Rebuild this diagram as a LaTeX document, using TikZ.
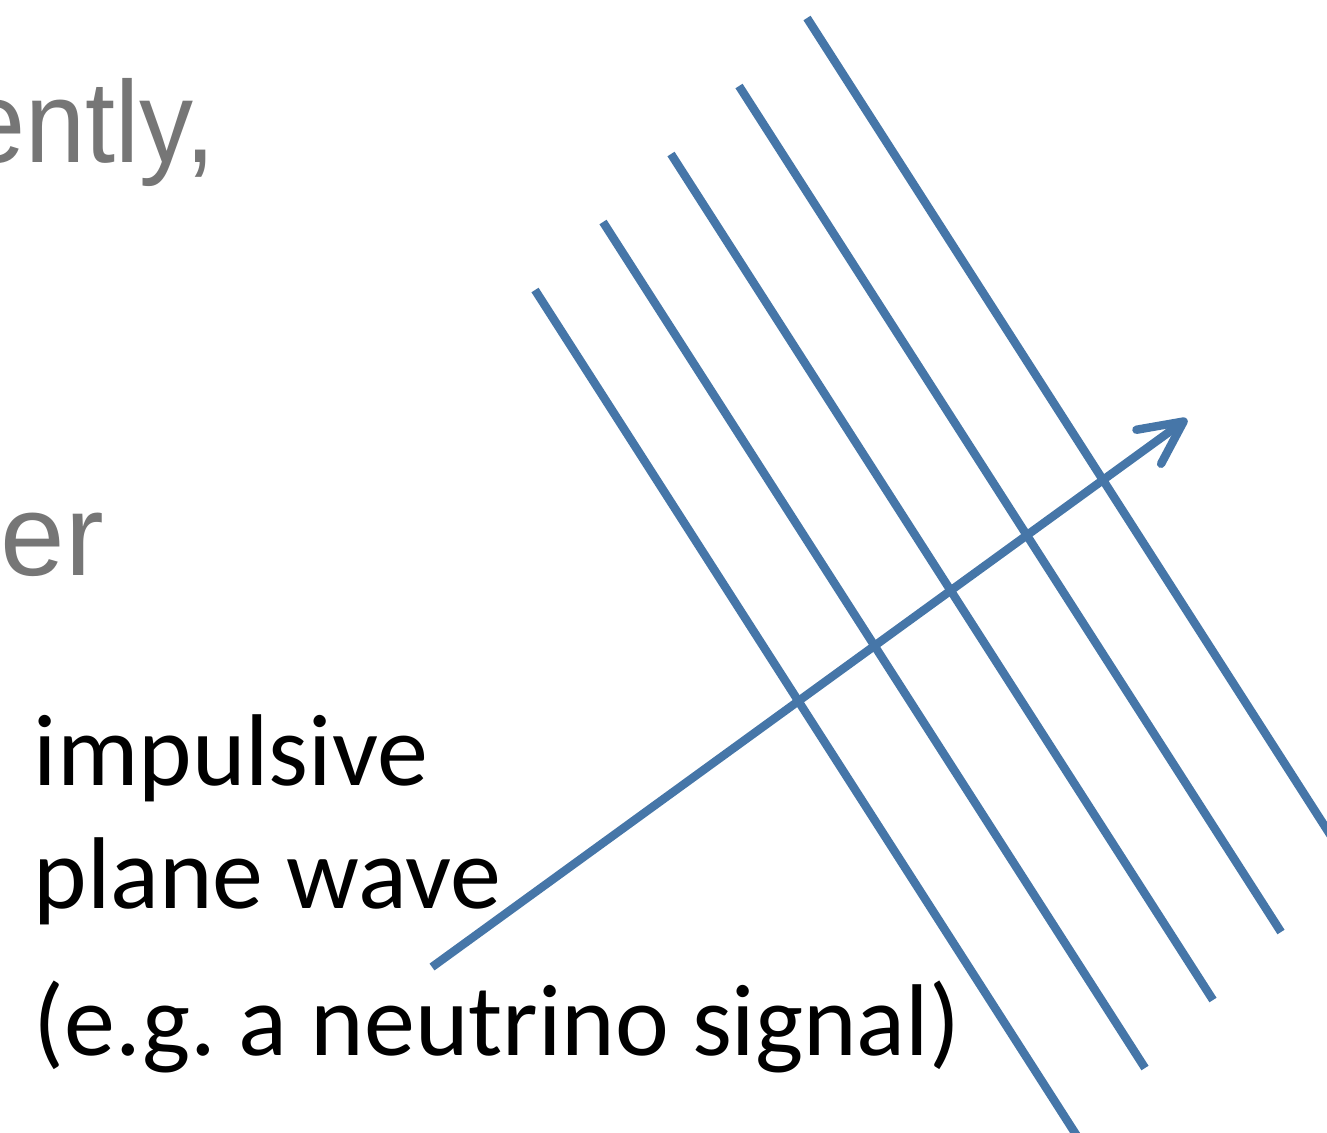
\documentclass[tikz,border=0pt]{standalone}
\usepackage{fontspec}
\setmainfont{Carlito}
\newfontfamily\slidefont{Liberation Sans}
\usetikzlibrary{arrows.meta}
\definecolor{waveblue}{RGB}{70,118,168}
\definecolor{slidegray}{RGB}{118,118,118}
\tikzset{
  front/.style={waveblue, line width=2.4pt},
  caption/.style={anchor=base west, inner sep=0pt, font=\fontsize{29}{35}\selectfont},
  backtext/.style={inner sep=0pt, text=slidegray, font=\slidefont\fontsize{33}{40}\selectfont}
}
\begin{document}
\frenchspacing
\begin{tikzpicture}[x=0.01cm, y=-0.01cm]
  \useasboundingbox (0,0) rectangle (1327,1132);
  \clip (0,0) rectangle (1327,1132);
  % slide text behind the picture
  \node[backtext, anchor=base east] (ently) at (216,162) {\scalebox{0.93}[1]{ently,}};
  \node[backtext, anchor=base west] (er) at (0,575) {er};
  % wave fronts
  \foreach \i in {0,...,4}
    \draw[front] (535+\i*68,290-\i*68) -- ++(542,846);
  % direction of travel
  \coordinate (src) at (432,967);
  \coordinate (tip) at (1187,419);
  \draw[front, -{Straight Barb[length=4.3mm, width=4.2mm, round]}] (src) -- (tip);
  % labels
  \node[caption] (impulsive) at (33,785) {impulsive};
  \node[caption] (plane) at (33,908) {plane wave};
  \node[caption] (example) at (33,1055) {(e.g. a neutrino signal)};
\end{tikzpicture}
\end{document}
